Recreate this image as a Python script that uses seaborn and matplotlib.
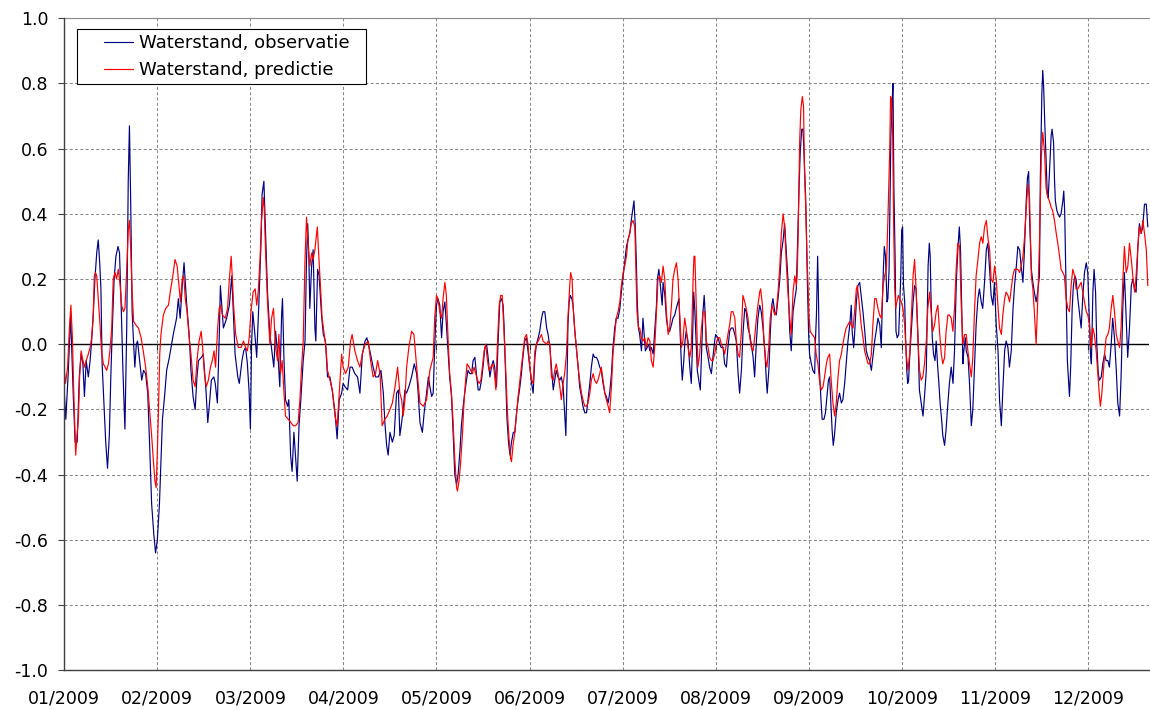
import numpy as np
import pandas as pd
import matplotlib
matplotlib.use("Agg")
import matplotlib.pyplot as plt
from matplotlib.ticker import FormatStrFormatter
from matplotlib.markers import TICKDOWN
import seaborn as sns

# Water level 2009, days counted from 1 January, level in metres
OBS_DAY = [
    0.0, 0.5, 1.3, 2.1, 3.0, 3.6, 4.3, 5.0, 5.6, 6.2, 6.7, 7.3, 8.0, 8.6, 9.1, 9.7, 10.2, 10.8, 11.3, 11.8,
    12.2, 12.6, 13.2, 13.8, 14.4, 15.0, 15.5, 16.0, 16.6, 17.2, 17.9, 18.4, 19.0, 19.6, 20.2, 20.8, 21.3, 21.7, 22.1, 22.6,
    23.0, 23.5, 24.0, 24.4, 25.1, 25.8, 26.4, 27.1, 27.8, 28.4, 29.1, 29.8, 30.4, 31.0, 31.7, 32.7, 33.4, 34.1, 35.0, 36.3,
    37.4, 38.0, 38.6, 39.3, 39.9, 40.8, 41.6, 42.2, 42.9, 43.6, 44.2, 44.7, 45.7, 46.3, 47.2, 47.8, 48.2, 49.0, 49.8, 50.3,
    51.0, 51.7, 52.0, 52.6, 53.0, 54.1, 55.0, 55.8, 56.3, 56.9, 57.8, 58.3, 59.2, 59.8, 60.4, 61.0, 61.6, 62.0, 62.4, 62.8,
    63.5, 64.1, 64.8, 65.5, 65.9, 66.5, 67.0, 67.7, 68.5, 69.3, 69.8, 70.4, 71.3, 71.8, 72.4, 72.7, 73.2, 73.7, 74.4, 74.8,
    75.4, 75.9, 76.5, 77.1, 77.6, 78.2, 78.8, 79.6, 80.2, 80.7, 81.1, 81.5, 81.8, 82.4, 82.9, 83.5, 83.8, 84.4, 84.9, 85.7,
    86.3, 87.0, 87.7, 88.5, 89.4, 90.2, 90.9, 91.6, 92.4, 92.9, 93.5, 94.4, 95.2, 95.9, 96.8, 97.7, 98.5, 99.3, 100.2, 100.8,
    101.8, 102.9, 103.7, 104.6, 105.5, 106.3, 106.8, 107.4, 107.9, 108.5, 109.3, 109.9, 110.7, 111.3, 111.8, 112.4, 112.9, 113.5, 114.0, 114.8,
    115.7, 116.6, 117.4, 117.9, 118.5, 119.3, 119.9, 120.7, 121.3, 121.8, 122.4, 122.9, 123.4, 124.0, 124.5, 125.1, 125.7, 126.2, 126.8, 127.3,
    127.9, 128.4, 129.0, 129.5, 130.1, 130.7, 131.2, 131.8, 132.3, 132.9, 133.4, 134.0, 134.5, 135.1, 135.7, 136.2, 136.8, 137.3, 137.9, 138.4,
    139.0, 139.5, 140.1, 140.7, 141.2, 141.8, 142.3, 142.9, 143.4, 144.0, 144.5, 145.1, 145.7, 146.2, 146.5, 147.1, 147.5, 148.0, 148.5, 149.0,
    149.6, 150.1, 150.7, 151.2, 151.8, 152.3, 152.9, 153.4, 154.0, 154.5, 155.1, 155.7, 156.2, 156.8, 157.3, 157.9, 158.4, 159.0, 159.5, 160.1,
    160.7, 161.2, 161.8, 162.3, 162.9, 163.4, 163.9, 164.5, 165.1, 165.6, 166.2, 166.7, 167.1, 167.5, 167.8, 168.2, 168.6, 169.1, 169.5, 170.1,
    170.6, 171.2, 171.7, 172.3, 172.8, 173.4, 174.0, 174.5, 175.1, 175.6, 176.2, 176.7, 177.3, 177.8, 178.4, 178.9, 179.5, 180.1, 180.6, 181.2,
    181.7, 182.3, 182.8, 183.4, 183.9, 184.5, 185.1, 185.6, 186.2, 186.7, 187.3, 187.8, 188.4, 188.9, 189.5, 189.8, 190.2, 190.6, 190.9, 191.3,
    191.7, 192.3, 192.8, 193.2, 193.6, 194.2, 194.7, 195.1, 195.6, 196.2, 196.7, 197.3, 197.6, 198.1, 198.4, 198.7, 199.2, 199.5, 200.1, 200.6,
    201.2, 201.7, 202.3, 202.8, 203.4, 203.9, 204.5, 204.8, 205.2, 205.6, 205.9, 206.4, 206.8, 207.2, 207.8, 208.4, 208.9, 209.2, 209.7, 210.1,
    210.6, 210.9, 211.4, 211.9, 212.4, 212.8, 213.2, 213.6, 213.9, 214.5, 215.0, 215.6, 216.1, 216.7, 217.0, 217.8, 218.4, 218.9, 219.5, 220.0,
    220.6, 221.1, 221.7, 222.2, 222.8, 223.4, 223.9, 224.5, 225.0, 225.6, 226.1, 226.7, 227.2, 227.8, 228.4, 228.9, 229.5, 230.0, 230.6, 231.1,
    231.7, 232.2, 232.8, 233.4, 233.9, 234.2, 234.8, 235.2, 235.7, 236.1, 236.7, 237.2, 237.8, 238.4, 238.9, 239.5, 240.0, 240.6, 241.1, 241.7,
    242.2, 242.8, 243.4, 243.9, 244.3, 244.8, 245.2, 245.7, 246.1, 246.4, 246.8, 247.0, 247.3, 247.6, 248.0, 248.3, 248.9, 249.4, 250.0, 250.3,
    250.6, 251.0, 251.3, 251.6, 252.1, 252.5, 253.1, 253.6, 254.1, 254.6, 255.0, 255.3, 255.8, 256.2, 256.6, 257.2, 257.8, 258.3, 258.9, 259.4,
    260.0, 260.5, 261.1, 261.7, 262.2, 262.5, 263.0, 263.3, 263.9, 264.4, 265.0, 265.5, 266.1, 266.7, 267.2, 267.8, 268.3, 268.9, 269.4, 270.0,
    270.5, 271.1, 271.7, 272.2, 272.5, 272.9, 273.2, 273.6, 274.1, 274.4, 274.8, 275.1, 275.4, 275.8, 276.1, 276.4, 276.8, 277.1, 277.5, 278.0,
    278.3, 278.7, 279.0, 279.3, 279.6, 280.0, 280.3, 280.7, 281.0, 281.3, 281.6, 282.2, 282.8, 283.3, 283.8, 284.4, 284.9, 285.5, 286.1, 286.6,
    287.2, 287.5, 287.8, 288.2, 288.5, 288.8, 289.2, 289.6, 290.1, 290.5, 291.0, 291.4, 291.8, 292.3, 292.7, 293.3, 293.8, 294.4, 294.9, 295.5,
    296.1, 296.6, 297.2, 297.7, 298.2, 298.6, 299.0, 299.4, 299.7, 300.2, 300.5, 301.1, 301.6, 302.2, 302.7, 303.3, 303.8, 304.4, 304.9, 305.5,
    306.0, 306.6, 307.2, 307.7, 308.3, 308.8, 309.4, 309.9, 310.5, 311.1, 311.6, 312.2, 312.7, 313.3, 313.8, 314.4, 314.9, 315.5, 316.1, 316.6,
    317.2, 317.7, 318.3, 318.8, 319.4, 319.9, 320.5, 320.9, 321.3, 321.6, 322.2, 322.7, 323.2, 323.8, 324.3, 324.9, 325.2, 325.7, 326.0, 326.3,
    326.7, 327.1, 327.5, 327.8, 328.2, 328.8, 329.1, 329.6, 329.9, 330.2, 330.7, 331.1, 331.6, 332.1, 332.7, 333.0, 333.3, 333.8, 334.2, 334.7,
    334.9, 335.3, 335.8, 336.2, 336.7, 337.1, 337.7, 338.2, 338.8, 339.3, 339.9, 340.5, 341.0, 341.6, 341.9, 342.2, 342.7, 343.1, 343.6, 344.0,
    344.5, 344.9, 345.5, 346.0, 346.6, 347.1, 347.7, 348.2, 348.8, 349.3, 349.9, 350.5, 351.0, 351.6, 352.1, 352.7, 353.2, 353.8, 354.3, 354.9,
    355.5, 356.0, 356.6, 357.1, 357.7, 358.2, 358.8, 359.3, 359.9, 360.5, 361.0,
]
OBS_LEVEL = [
    -0.15, -0.23, -0.09, 0.09, -0.16, -0.30, -0.30, -0.10, -0.03, -0.06, -0.16, -0.05, -0.10, -0.05, 0.01, 0.10, 0.20, 0.28, 0.32, 0.25,
    0.17, -0.06, -0.18, -0.30, -0.38, -0.28, -0.10, 0.05, 0.20, 0.27, 0.30, 0.28, 0.10, -0.10, -0.26, 0.05, 0.50, 0.67, 0.45, 0.10,
    0.02, -0.07, 0.00, 0.01, -0.05, -0.11, -0.08, -0.09, -0.15, -0.30, -0.49, -0.58, -0.64, -0.60, -0.49, -0.23, -0.16, -0.08, -0.04, 0.03,
    0.08, 0.14, 0.08, 0.18, 0.25, 0.12, 0.03, -0.08, -0.16, -0.20, -0.10, -0.05, -0.04, -0.03, -0.14, -0.24, -0.20, -0.11, -0.10, -0.12,
    -0.18, 0.05, 0.18, 0.10, 0.05, 0.08, 0.12, 0.21, 0.10, -0.03, -0.10, -0.12, -0.05, -0.02, -0.01, -0.06, -0.15, -0.26, 0.00, 0.10,
    0.03, -0.04, 0.12, 0.30, 0.46, 0.50, 0.36, 0.16, 0.03, -0.03, -0.07, 0.04, -0.05, -0.13, 0.09, 0.14, -0.05, -0.17, -0.19, -0.17,
    -0.34, -0.39, -0.27, -0.35, -0.42, -0.25, -0.17, -0.05, 0.01, 0.26, 0.37, 0.26, 0.11, 0.24, 0.29, 0.05, 0.01, 0.23, 0.21, 0.09,
    0.03, 0.01, -0.10, -0.10, -0.15, -0.21, -0.29, -0.17, -0.15, -0.12, -0.13, -0.14, -0.07, -0.07, -0.09, -0.10, -0.15, -0.03, 0.01, 0.02,
    -0.02, -0.07, -0.10, -0.10, -0.08, -0.15, -0.24, -0.31, -0.34, -0.27, -0.30, -0.28, -0.15, -0.14, -0.28, -0.24, -0.20, -0.14, -0.15, -0.13,
    -0.10, -0.06, -0.09, -0.15, -0.24, -0.27, -0.21, -0.15, -0.10, -0.13, -0.16, -0.15, -0.01, 0.12, 0.14, 0.12, 0.02, 0.10, 0.13, 0.06,
    -0.03, -0.10, -0.16, -0.26, -0.40, -0.43, -0.40, -0.33, -0.25, -0.19, -0.15, -0.11, -0.08, -0.09, -0.09, -0.05, -0.04, -0.09, -0.14, -0.14,
    -0.11, -0.07, -0.01, 0.00, -0.04, -0.10, -0.07, -0.05, -0.07, -0.13, 0.00, 0.13, 0.14, 0.12, 0.06, -0.11, -0.23, -0.30, -0.34, -0.30,
    -0.27, -0.27, -0.21, -0.17, -0.13, -0.09, -0.03, 0.01, 0.02, -0.02, -0.07, -0.12, -0.15, -0.04, 0.00, 0.02, 0.04, 0.08, 0.10, 0.10,
    0.05, 0.03, -0.01, -0.07, -0.14, -0.11, -0.08, -0.10, -0.11, -0.10, -0.13, -0.21, -0.28, -0.11, 0.06, 0.13, 0.15, 0.14, 0.12, 0.04,
    -0.01, -0.07, -0.13, -0.16, -0.19, -0.21, -0.21, -0.17, -0.12, -0.07, -0.03, -0.04, -0.04, -0.05, -0.07, -0.08, -0.12, -0.15, -0.16, -0.18,
    -0.15, -0.09, -0.01, 0.05, 0.08, 0.08, 0.11, 0.16, 0.21, 0.25, 0.30, 0.32, 0.34, 0.38, 0.42, 0.44, 0.37, 0.25, 0.13, 0.05,
    0.03, -0.02, 0.08, 0.03, -0.02, -0.01, 0.00, -0.02, -0.01, -0.03, 0.04, 0.12, 0.20, 0.23, 0.20, 0.17, 0.12, 0.19, 0.15, 0.08,
    0.04, 0.04, 0.06, 0.08, 0.09, 0.11, 0.13, 0.14, 0.03, -0.06, -0.11, -0.05, 0.01, 0.04, 0.01, -0.07, -0.12, -0.03, 0.16, 0.10,
    -0.01, -0.08, -0.11, -0.14, -0.01, 0.10, 0.15, 0.08, -0.01, -0.04, -0.07, -0.09, -0.04, 0.01, 0.03, 0.02, 0.00, -0.01, -0.01, -0.06,
    -0.07, -0.01, 0.04, 0.05, 0.05, 0.03, 0.01, -0.09, -0.15, -0.08, 0.03, 0.11, 0.10, 0.05, 0.03, 0.00, -0.04, -0.10, 0.01, 0.08,
    0.12, 0.10, 0.05, -0.02, -0.11, -0.15, -0.07, 0.03, 0.12, 0.14, 0.10, 0.09, 0.14, 0.20, 0.28, 0.32, 0.37, 0.28, 0.20, 0.04,
    -0.02, 0.10, 0.14, 0.17, 0.31, 0.48, 0.59, 0.66, 0.66, 0.60, 0.50, 0.45, 0.33, 0.18, 0.03, -0.03, -0.06, -0.08, -0.09, 0.02,
    0.09, 0.27, 0.13, -0.08, -0.17, -0.23, -0.23, -0.21, -0.16, -0.11, -0.10, -0.16, -0.26, -0.31, -0.28, -0.21, -0.17, -0.15, -0.18, -0.17,
    -0.12, -0.06, 0.01, 0.06, 0.12, 0.04, -0.01, 0.03, 0.13, 0.18, 0.19, 0.15, 0.10, 0.04, -0.02, -0.04, -0.05, -0.08, -0.04, 0.01,
    0.04, 0.08, 0.06, -0.01, 0.11, 0.23, 0.30, 0.27, 0.13, 0.14, 0.23, 0.43, 0.64, 0.74, 0.80, 0.48, 0.27, 0.04, 0.02, 0.03,
    0.11, 0.21, 0.35, 0.36, 0.18, 0.13, 0.02, -0.08, -0.12, -0.11, -0.05, 0.04, 0.13, 0.18, 0.17, 0.03, -0.14, -0.18, -0.22, -0.16,
    -0.08, 0.09, 0.24, 0.31, 0.27, 0.13, 0.02, -0.03, -0.05, 0.01, -0.07, -0.12, -0.18, -0.23, -0.28, -0.31, -0.26, -0.18, -0.12, -0.07,
    -0.12, -0.02, 0.19, 0.29, 0.36, 0.29, 0.12, -0.06, -0.02, 0.02, -0.02, -0.04, -0.12, -0.25, -0.20, -0.06, 0.06, 0.14, 0.17, 0.13,
    0.11, 0.19, 0.29, 0.31, 0.23, 0.15, 0.12, 0.19, 0.06, -0.02, -0.17, -0.25, -0.14, -0.02, 0.01, -0.01, -0.07, -0.02, 0.11, 0.18,
    0.24, 0.30, 0.29, 0.24, 0.19, 0.29, 0.44, 0.51, 0.53, 0.39, 0.23, 0.19, 0.16, 0.13, 0.16, 0.21, 0.51, 0.77, 0.84, 0.79,
    0.67, 0.57, 0.46, 0.45, 0.52, 0.64, 0.66, 0.62, 0.51, 0.44, 0.41, 0.40, 0.39, 0.40, 0.44, 0.47, 0.41, 0.16, -0.05, -0.13,
    -0.16, -0.07, 0.11, 0.18, 0.21, 0.20, 0.14, 0.10, 0.05, 0.14, 0.22, 0.25, 0.22, 0.05, -0.03, -0.06, 0.16, 0.23, 0.16, 0.00,
    -0.09, -0.11, -0.10, -0.06, -0.03, -0.05, -0.05, -0.07, 0.00, 0.08, 0.02, -0.08, -0.18, -0.22, -0.10, 0.12, 0.22, 0.08, -0.04, 0.05,
    0.18, 0.20, 0.17, 0.16, 0.30, 0.37, 0.34, 0.36, 0.43, 0.43, 0.36,
]

PRED_DAY = [
    0.0, 0.4, 1.1, 1.7, 2.2, 2.7, 3.1, 3.8, 4.2, 4.7, 5.1, 5.6, 6.0, 6.7, 7.3, 8.0, 8.6, 9.1, 9.6, 10.0,
    10.4, 10.8, 11.3, 11.9, 12.4, 13.0, 13.6, 14.1, 14.7, 15.2, 15.8, 16.3, 16.9, 17.4, 18.0, 18.6, 19.1, 19.7, 20.2, 20.8,
    21.3, 21.7, 22.1, 22.6, 23.1, 23.8, 24.7, 25.6, 26.3, 27.1, 27.8, 28.4, 29.1, 29.7, 30.2, 30.6, 31.0, 31.3, 31.8, 32.2,
    33.0, 33.8, 34.7, 35.3, 36.0, 36.9, 37.6, 38.2, 38.7, 39.3, 39.8, 40.3, 40.9, 41.6, 42.2, 42.9, 43.6, 44.2, 44.9, 45.6,
    46.1, 46.7, 47.3, 48.0, 48.7, 49.3, 49.9, 50.4, 51.1, 51.6, 52.0, 52.7, 53.6, 54.4, 55.0, 55.6, 56.0, 56.4, 57.1, 58.0,
    58.9, 59.7, 60.4, 61.0, 61.6, 62.2, 62.9, 63.6, 64.1, 64.6, 65.2, 65.7, 66.3, 66.6, 67.0, 67.7, 68.5, 69.05, 69.7, 70.4,
    71.05, 71.5, 72.05, 72.6, 73.2, 73.7, 74.6, 75.5, 76.3, 77.05, 77.9, 78.5, 79.05, 79.6, 80.2, 80.7, 81.3, 81.8, 82.4, 82.9,
    83.5, 84.3, 84.8, 85.4, 85.9, 86.6, 87.2, 87.7, 88.5, 89.3, 90.2, 90.9, 91.6, 92.4, 92.9, 93.7, 94.6, 95.4, 95.9, 96.8,
    97.7, 98.5, 99.3, 100.2, 101.3, 102.05, 102.9, 103.7, 104.4, 105.2, 105.9, 106.8, 107.6, 108.5, 109.3, 110.2, 111.05, 111.8, 112.4, 112.9,
    113.5, 114.05, 114.8, 115.7, 116.5, 117.4, 118.5, 119.6, 120.7, 121.8, 122.9, 123.4, 124.0, 124.5, 125.1, 125.7, 126.2, 126.8, 127.3, 127.9,
    128.4, 129.0, 129.5, 130.1, 130.7, 131.0, 131.5, 132.0, 132.7, 133.1, 133.7, 134.2, 134.9, 135.4, 136.0, 136.5, 137.1, 137.7, 138.2, 138.8,
    139.3, 139.9, 140.4, 141.0, 141.5, 142.1, 142.7, 143.2, 143.8, 144.3, 144.9, 145.4, 145.9, 146.4, 147.0, 147.6, 148.1, 148.7, 149.0, 149.5,
    150.1, 150.7, 151.2, 151.8, 152.3, 152.9, 153.4, 154.0, 154.5, 155.1, 155.7, 156.2, 156.8, 157.3, 157.9, 158.4, 159.0, 159.5, 160.7, 161.2,
    161.8, 162.3, 162.9, 163.4, 163.9, 164.5, 165.1, 165.6, 166.2, 166.7, 167.3, 167.8, 168.4, 168.7, 169.2, 169.5, 170.1, 170.6, 171.2, 171.7,
    172.3, 172.8, 173.4, 174.0, 174.5, 175.1, 175.6, 176.2, 176.7, 177.3, 177.8, 178.4, 178.9, 179.5, 180.1, 180.6, 181.2, 181.7, 182.3, 182.8,
    183.4, 183.9, 184.5, 185.1, 185.6, 186.2, 186.7, 187.3, 187.8, 188.4, 188.9, 189.5, 190.1, 190.4, 190.8, 191.3, 191.7, 192.3, 192.8, 193.4,
    193.9, 194.5, 195.1, 195.6, 196.2, 196.7, 197.3, 197.8, 198.4, 198.95, 199.5, 200.05, 200.6, 201.2, 201.7, 202.3, 202.8, 203.4, 203.95, 204.5,
    205.0, 205.6, 206.1, 206.7, 207.2, 207.8, 208.4, 208.9, 209.5, 209.8, 210.1, 210.6, 211.1, 211.7, 212.2, 212.8, 213.4, 213.9, 214.5, 215.0,
    215.6, 216.1, 216.7, 217.2, 217.8, 218.4, 218.9, 219.5, 220.0, 220.6, 221.1, 221.7, 222.2, 222.8, 223.4, 223.9, 224.5, 225.0, 225.6, 226.1,
    226.7, 227.2, 227.8, 228.4, 228.9, 229.5, 230.0, 230.6, 231.1, 231.7, 232.0, 232.6, 233.1, 233.7, 234.1, 234.7, 235.2, 235.8, 236.1, 236.7,
    237.2, 237.8, 238.4, 238.9, 239.5, 240.0, 240.6, 241.1, 241.7, 242.2, 242.8, 243.4, 243.9, 244.2, 244.5, 245.0, 245.4, 245.9, 246.3, 246.6,
    247.0, 247.4, 247.8, 248.1, 248.5, 249.2, 250.0, 250.5, 251.1, 251.6, 252.2, 252.8, 253.3, 253.9, 254.4, 255.0, 255.5, 256.1, 256.65, 257.2,
    257.8, 258.3, 258.9, 259.4, 260.0, 260.5, 261.1, 261.7, 262.2, 262.8, 263.3, 263.9, 264.2, 264.7, 265.0, 265.5, 266.1, 266.65, 267.2, 267.8,
    268.3, 268.9, 269.4, 270.0, 270.5, 271.1, 271.65, 272.2, 272.8, 273.3, 273.9, 274.4, 275.0, 275.3, 275.65, 276.0, 276.3, 276.65, 277.0, 277.4,
    277.9, 278.3, 278.9, 279.4, 280.0, 280.5, 281.1, 281.65, 282.2, 282.8, 283.3, 283.8, 284.4, 284.95, 285.5, 286.05, 286.6, 287.2, 287.7, 288.3,
    288.8, 289.4, 289.95, 290.5, 291.05, 291.6, 292.2, 292.7, 293.3, 293.8, 294.4, 294.9, 295.5, 296.05, 296.6, 297.2, 297.7, 298.3, 298.8, 299.4,
    299.95, 300.5, 301.05, 301.6, 302.2, 302.7, 303.3, 303.8, 304.4, 304.95, 305.5, 306.05, 306.6, 307.2, 307.7, 308.3, 308.8, 309.4, 309.95, 310.5,
    311.05, 311.6, 312.2, 312.7, 313.3, 313.8, 314.4, 314.95, 315.5, 316.05, 316.6, 317.2, 317.7, 318.3, 318.8, 319.4, 319.95, 320.5, 321.05, 321.6,
    322.2, 322.7, 323.2, 323.8, 324.35, 324.9, 325.5, 326.0, 326.6, 327.1, 327.7, 328.2, 328.8, 329.3, 329.9, 330.5, 331.0, 331.6, 332.1, 332.7,
    333.2, 333.8, 334.35, 334.9, 335.45, 336.0, 336.6, 337.1, 337.7, 338.2, 338.8, 339.35, 339.9, 340.5, 341.0, 341.6, 342.1, 342.7, 343.2, 343.8,
    344.35, 344.9, 345.2, 345.7, 346.0, 346.6, 347.1, 347.7, 348.2, 348.8, 349.35, 349.9, 350.5, 351.0, 351.6, 352.1, 352.7, 353.2, 353.8, 354.35,
    354.9, 355.5, 356.0, 356.6, 357.1, 357.7, 358.2, 358.8, 359.35, 359.9, 360.5, 361.0,
]
PRED_LEVEL = [
    -0.08, -0.12, -0.07, 0.05, 0.12, 0.02, -0.13, -0.34, -0.28, -0.23, -0.10, -0.02, -0.04, -0.07, -0.05, -0.03, -0.01, 0.02, 0.08, 0.21,
    0.22, 0.21, 0.14, 0.06, -0.02, -0.06, -0.07, -0.08, -0.06, -0.02, 0.05, 0.20, 0.22, 0.20, 0.23, 0.18, 0.12, 0.10, 0.11, 0.23,
    0.35, 0.38, 0.30, 0.16, 0.07, 0.06, 0.05, 0.02, -0.02, -0.07, -0.13, -0.20, -0.28, -0.36, -0.42, -0.44, -0.33, -0.23, -0.03, 0.03,
    0.09, 0.11, 0.12, 0.16, 0.20, 0.26, 0.24, 0.18, 0.13, 0.20, 0.21, 0.14, 0.10, 0.02, -0.03, -0.11, -0.13, -0.05, 0.01, 0.04,
    -0.01, -0.09, -0.13, -0.11, -0.07, -0.05, -0.02, -0.07, 0.05, 0.11, 0.12, 0.09, 0.08, 0.11, 0.20, 0.27, 0.20, 0.12, 0.03, -0.01,
    -0.01, 0.01, -0.01, -0.02, 0.02, 0.10, 0.16, 0.17, 0.12, 0.16, 0.26, 0.38, 0.45, 0.42, 0.30, 0.13, 0.00, 0.08, 0.11, -0.01,
    -0.05, 0.03, -0.09, -0.05, -0.15, -0.22, -0.23, -0.24, -0.25, -0.25, -0.24, -0.17, -0.07, 0.01, 0.26, 0.39, 0.30, 0.24, 0.28, 0.26,
    0.29, 0.36, 0.27, 0.17, 0.08, 0.03, -0.01, -0.08, -0.11, -0.14, -0.22, -0.25, -0.15, -0.03, -0.07, -0.09, -0.07, 0.01, 0.03, -0.02,
    -0.05, -0.07, -0.03, 0.00, 0.01, -0.05, -0.10, -0.09, -0.05, -0.09, -0.25, -0.23, -0.22, -0.20, -0.18, -0.13, -0.07, -0.15, -0.17, -0.22,
    -0.17, -0.07, -0.01, 0.04, 0.03, -0.07, -0.18, -0.19, -0.17, -0.08, -0.04, 0.08, 0.15, 0.14, 0.10, 0.08, 0.14, 0.19, 0.15, 0.01,
    -0.09, -0.15, -0.23, -0.35, -0.44, -0.45, -0.42, -0.37, -0.27, -0.19, -0.11, -0.06, -0.07, -0.08, -0.09, -0.07, -0.09, -0.11, -0.12, -0.11,
    -0.07, -0.02, 0.00, -0.05, -0.08, -0.07, -0.06, -0.08, -0.14, 0.00, 0.12, 0.15, 0.15, 0.06, -0.06, -0.20, -0.28, -0.35, -0.36, -0.31,
    -0.27, -0.21, -0.16, -0.11, -0.07, -0.02, 0.02, 0.03, 0.00, -0.07, -0.11, -0.12, -0.02, 0.00, 0.01, 0.02, 0.03, 0.01, 0.00, 0.01,
    0.00, -0.10, -0.11, -0.08, -0.06, -0.09, -0.13, -0.17, -0.12, -0.09, -0.03, 0.08, 0.18, 0.22, 0.20, 0.12, 0.04, -0.01, -0.07, -0.11,
    -0.15, -0.17, -0.19, -0.19, -0.18, -0.15, -0.11, -0.09, -0.11, -0.12, -0.11, -0.09, -0.07, -0.11, -0.15, -0.17, -0.19, -0.21, -0.13, -0.03,
    0.03, 0.08, 0.10, 0.13, 0.18, 0.22, 0.24, 0.27, 0.32, 0.34, 0.37, 0.38, 0.36, 0.25, 0.10, 0.05, 0.05, 0.02, 0.01, 0.02,
    -0.01, 0.02, 0.01, -0.05, -0.07, -0.01, 0.10, 0.20, 0.21, 0.19, 0.24, 0.20, 0.10, 0.03, 0.05, 0.12, 0.20, 0.23, 0.25, 0.20,
    0.10, -0.01, 0.01, 0.08, 0.05, -0.01, -0.04, -0.01, 0.20, 0.27, 0.27, 0.10, -0.07, -0.03, 0.04, 0.10, 0.10, 0.01, -0.01, -0.04,
    -0.05, -0.05, -0.03, 0.00, 0.02, 0.02, 0.00, -0.01, -0.03, 0.00, 0.03, 0.06, 0.10, 0.10, 0.08, 0.01, -0.03, -0.04, 0.04, 0.15,
    0.13, 0.11, 0.08, 0.02, -0.01, -0.02, 0.02, 0.08, 0.12, 0.16, 0.17, 0.12, 0.01, -0.05, -0.07, -0.01, 0.08, 0.12, 0.11, 0.09,
    0.10, 0.16, 0.24, 0.34, 0.40, 0.36, 0.24, 0.16, 0.08, 0.03, 0.16, 0.21, 0.18, 0.22, 0.33, 0.62, 0.72, 0.76, 0.73, 0.54,
    0.43, 0.28, 0.18, 0.09, 0.04, 0.03, 0.02, -0.03, -0.06, -0.11, -0.14, -0.13, -0.10, -0.06, -0.04, -0.03, -0.11, -0.18, -0.22, -0.18,
    -0.10, -0.05, -0.03, 0.00, 0.03, 0.05, 0.06, 0.07, 0.06, 0.05, 0.10, 0.17, 0.18, 0.14, 0.11, 0.06, 0.02, -0.02, -0.04, -0.06,
    -0.06, -0.03, 0.06, 0.14, 0.14, 0.11, 0.09, 0.08, 0.18, 0.21, 0.23, 0.38, 0.59, 0.76, 0.75, 0.64, 0.38, 0.18, 0.11, 0.13,
    0.15, 0.14, 0.13, 0.11, 0.06, -0.03, -0.08, -0.03, 0.08, 0.21, 0.26, 0.17, 0.02, -0.08, -0.11, -0.10, -0.06, 0.01, 0.11, 0.16,
    0.10, 0.04, 0.06, 0.10, 0.12, 0.04, -0.03, -0.06, -0.04, 0.04, 0.09, 0.09, 0.08, 0.04, 0.11, 0.24, 0.31, 0.30, 0.13, 0.00,
    0.03, 0.03, -0.02, -0.06, -0.10, -0.04, 0.11, 0.21, 0.26, 0.31, 0.33, 0.31, 0.36, 0.38, 0.33, 0.29, 0.20, 0.19, 0.24, 0.20,
    0.12, 0.05, 0.03, 0.09, 0.14, 0.16, 0.15, 0.13, 0.17, 0.21, 0.23, 0.23, 0.23, 0.22, 0.24, 0.27, 0.33, 0.42, 0.49, 0.45,
    0.21, 0.17, 0.10, 0.00, 0.14, 0.31, 0.57, 0.65, 0.59, 0.48, 0.45, 0.44, 0.42, 0.41, 0.38, 0.34, 0.31, 0.27, 0.23, 0.22,
    0.21, 0.14, 0.11, 0.10, 0.18, 0.23, 0.21, 0.17, 0.17, 0.18, 0.19, 0.16, 0.13, 0.10, 0.09, 0.06, -0.01, 0.05, 0.03, -0.02,
    -0.09, -0.16, -0.19, -0.15, -0.11, -0.03, 0.02, 0.03, 0.05, 0.11, 0.15, 0.10, 0.03, 0.01, -0.01, 0.05, 0.20, 0.30, 0.22, 0.24,
    0.31, 0.26, 0.21, 0.16, 0.21, 0.30, 0.36, 0.34, 0.38, 0.34, 0.29, 0.18,
]

MONTH_LABELS = ["01/2009", "02/2009", "03/2009", "04/2009", "05/2009", "06/2009",
                "07/2009", "08/2009", "09/2009", "10/2009", "11/2009", "12/2009"]
SERIES_NAMES = ["Waterstand, observatie", "Waterstand, predictie"]
SERIES_COLORS = ["#000080", "#FF0000"]
DAYS_PER_TICK = 31

sns.set_theme(style="white")
plt.rcParams["font.family"] = ["DejaVu Sans"]
plt.rcParams["axes.unicode_minus"] = False
plt.rcParams["lines.scale_dashes"] = False

W, H = 1150, 710
fig = plt.figure(figsize=(W / 100, H / 100), dpi=100, facecolor="white")
left, right, top, bottom = 64.3, 1149.0, 18.3, 670.3
ax = fig.add_axes([left / W, 1 - bottom / H, (right - left) / W, (bottom - top) / H])
ax.set_facecolor("white")

obs = pd.DataFrame({"dag": OBS_DAY, "waterstand": OBS_LEVEL})
pred = pd.DataFrame({"dag": PRED_DAY, "waterstand": PRED_LEVEL})

sns.lineplot(data=obs, x="dag", y="waterstand", color=SERIES_COLORS[0], linewidth=0.85,
             estimator=None, sort=False, label=SERIES_NAMES[0], ax=ax, zorder=3)
sns.lineplot(data=pred, x="dag", y="waterstand", color=SERIES_COLORS[1], linewidth=0.85,
             estimator=None, sort=False, label=SERIES_NAMES[1], ax=ax, zorder=4)

tick_days = np.arange(len(MONTH_LABELS)) * DAYS_PER_TICK
ax.set_xlim(0.0, 361.4)
ax.set_ylim(-1.0, 1.0)
ax.set_xticks(tick_days)
ax.set_xticklabels(MONTH_LABELS)
ax.set_yticks(np.round(np.linspace(-1.0, 1.0, 11), 1) + 0.0)
ax.yaxis.set_major_formatter(FormatStrFormatter("%.1f"))
ax.set_xlabel("")
ax.set_ylabel("")

ax.grid(True, color="#8a8a8a", linewidth=0.75, linestyle=(0, (2.2, 1.6)), zorder=0)
ax.set_axisbelow(True)

ax.tick_params(axis="y", left=True, direction="out", length=4.5, width=0.8,
               color="#404040", pad=7, labelsize=12.5, labelcolor="black")
ax.tick_params(axis="x", bottom=False, length=0, pad=14, labelsize=12.5, labelcolor="black")

for side in ("left", "bottom"):
    ax.spines[side].set_color("#404040")
    ax.spines[side].set_linewidth(1.0)
    ax.spines[side].set_zorder(5)
ax.spines["top"].set_color("#8a8a8a")
ax.spines["top"].set_linewidth(0.8)
ax.spines["right"].set_visible(False)

# horizontal axis line at zero, with a small tick below it for every month
ax.axhline(0.0, color="black", linewidth=1.0, zorder=2)
ax.plot(tick_days[1:], np.zeros(len(tick_days) - 1), linestyle="none", marker=TICKDOWN,
        markersize=4.5, markeredgewidth=0.8, color="#303030", zorder=2)

leg = ax.legend(loc="upper left", bbox_to_anchor=(0.0114, 0.0, 0.267, 0.9831), mode="expand",
                borderaxespad=0, fontsize=13, frameon=True, fancybox=False, shadow=False,
                edgecolor="black", facecolor="white", framealpha=1, borderpad=0.28,
                labelspacing=0.5, handlelength=2.82, handletextpad=0.33)
leg.get_frame().set_linewidth(0.8)
leg.set_zorder(10)
for text in leg.get_texts():
    text.set_color("black")
for line in leg.get_lines():
    xd = np.asarray(line.get_xdata(), dtype=float)
    yd = np.asarray(line.get_ydata(), dtype=float)
    end = xd.max()
    line.set_data([end - 20.9, end], [yd[0], yd[0]])
    line.set_linewidth(0.85)

fig.savefig("out.png", dpi=100, facecolor="white")
